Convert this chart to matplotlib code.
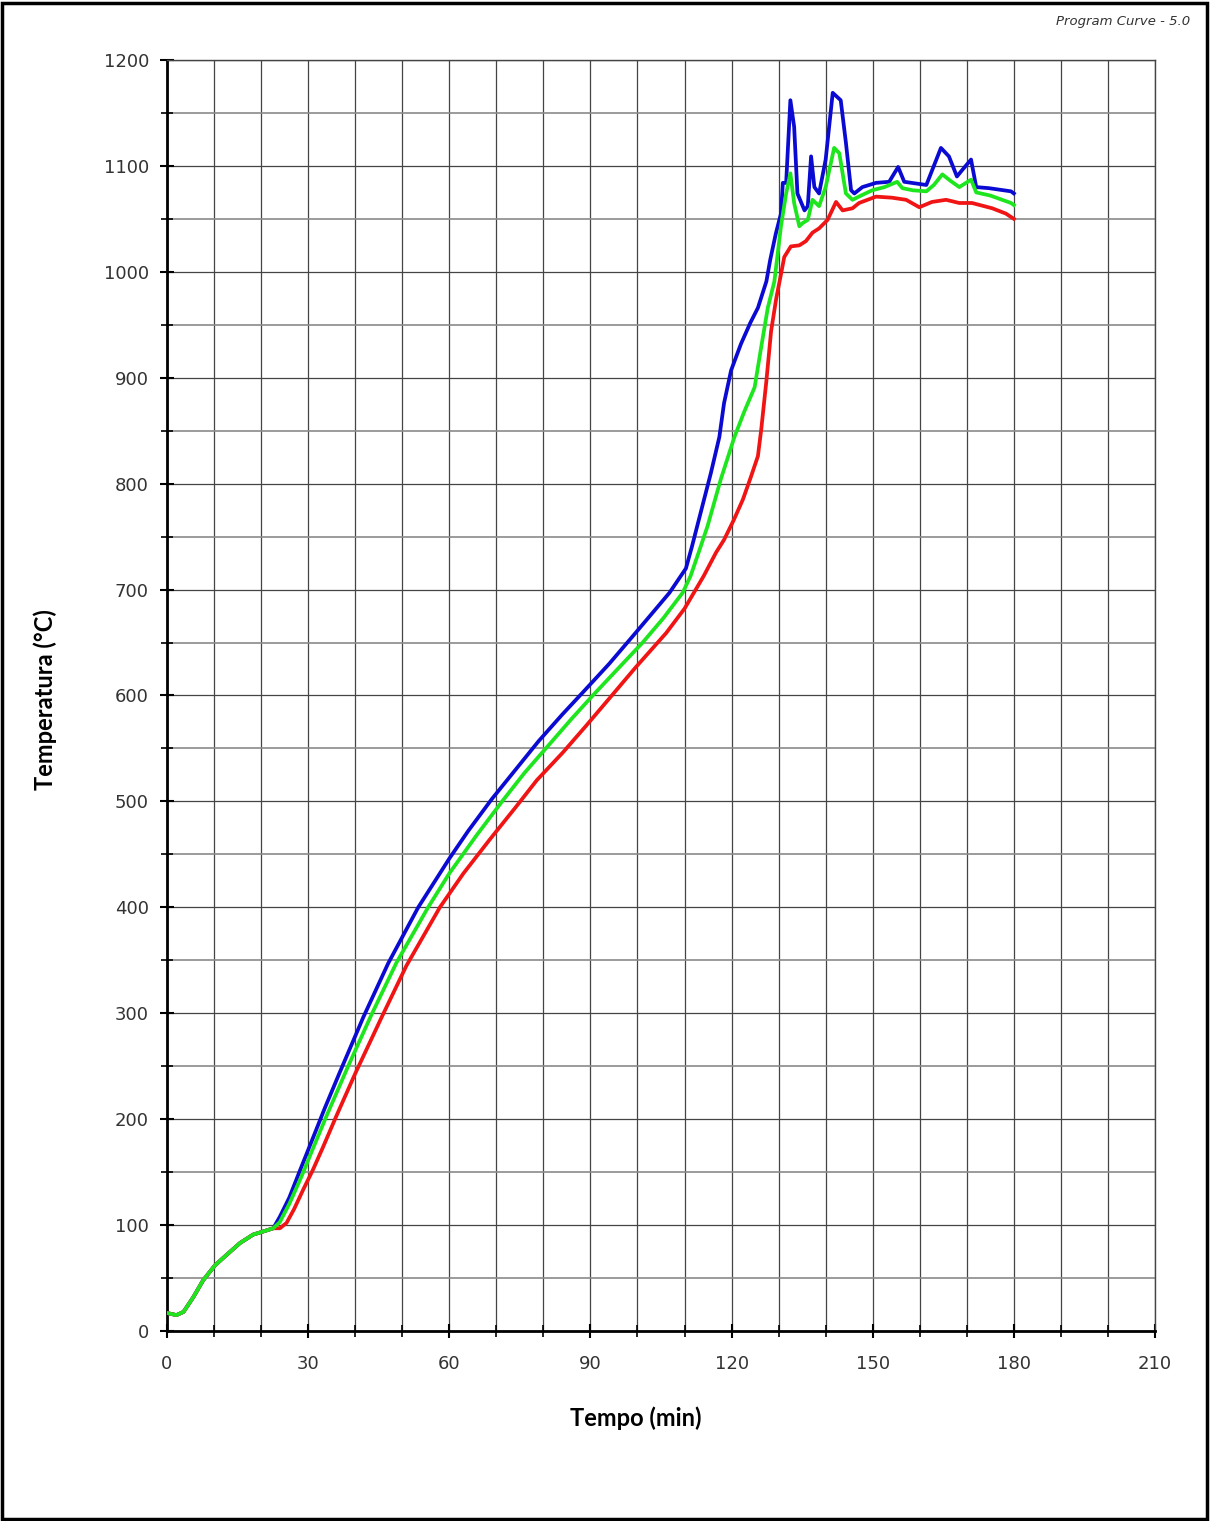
import matplotlib
matplotlib.use("Agg")
import matplotlib.pyplot as plt
from matplotlib.patches import Rectangle
from matplotlib.ticker import MultipleLocator

# furnace thermocouple readings: time (min) and temperature (C)
t_blue = [0, 2, 3.5, 5.6, 7.7, 10.2, 12.7, 15.5, 18.3, 21.2, 22.6, 24, 26, 28.3, 31, 33.5, 36.7,
          41.7, 47, 53.4, 60, 64, 69, 75, 79, 84, 88.4, 94, 99, 103, 106.8, 110.3, 111.6,
          113.8, 115.6, 117.4, 118.4, 119.9, 122, 124, 125.6, 127.4, 128.2, 129.4, 130.5, 130.9,
          131.6, 132.5, 133.3, 134, 135.5, 136.2, 136.9, 137.6, 138.6, 140, 141.5, 143.2, 144.3,
          145.4, 146.1, 147.8, 150.7, 153.5, 155.4, 156.7, 161.4, 164.5, 166.2, 167.9, 169,
          170.9, 172, 174.7, 179.4, 180]
temp_blue = [17, 15, 18, 32, 48, 62, 72, 83, 91, 95, 97, 108, 126, 152, 182, 210, 244,
             296, 347, 400, 446, 472, 502, 535, 557, 582, 603, 630, 656, 677, 697, 720, 741,
             779, 810, 844, 876, 907, 932, 952, 966, 991, 1011, 1036, 1055, 1084,
             1084, 1162, 1137, 1074, 1058, 1062, 1109, 1080, 1074, 1106, 1169, 1162, 1122,
             1077, 1074, 1080, 1084, 1085, 1099, 1085, 1082, 1117, 1109, 1090, 1096,
             1106, 1080, 1079, 1076, 1074]

t_green = [0, 2, 3.5, 5.6, 7.7, 10.2, 12.7, 15.5, 18.3, 21.2, 22.6, 24, 26, 28.6, 31, 34, 38.5,
           43.5, 48.8, 55.5, 60, 65.8, 71.4, 76, 81.3, 86, 90.5, 96, 101.1, 105.5, 109.6, 111.3,
           113, 114.9, 117.7, 120.6, 122.7, 124.9, 126.3, 127.7, 129.1, 130.5, 131.6, 132.5,
           133.3, 134.4, 135.1, 136.2, 137.2, 138.6, 140, 141.8, 142.9, 144.3, 145.7, 147.5,
           149.9, 152.5, 155.2, 156.3, 158.5, 161.4, 163, 164.8, 166.5, 168.4, 170.9, 172, 175,
           179.4, 180]
temp_green = [17, 15, 18, 32, 48, 62, 72, 83, 91, 95, 97, 103, 120, 146, 172, 204, 250,
              299, 348, 400, 432, 468, 501, 527, 554, 578, 600, 626, 650, 673, 697, 713,
              735, 760, 804, 844, 868, 891, 929, 966, 991, 1043, 1074, 1093,
              1065, 1043, 1046, 1049, 1068, 1062, 1080, 1117, 1112, 1074, 1068, 1072,
              1077, 1080, 1085, 1079, 1077, 1076, 1082, 1092, 1086, 1080, 1087, 1075, 1072,
              1065, 1063]

t_red = [0, 2, 3.5, 5.6, 7.7, 10.2, 12.7, 15.5, 18.3, 21.2, 22.6, 24, 25.4, 27, 28.9, 31, 33.2,
         36, 40, 45.6, 50.9, 58, 63, 68.6, 74.2, 78.6, 84.1, 89, 93.4, 99.7, 106.1, 110, 114.1,
         116.7, 118.4, 120.5, 122.4, 124, 125.6, 126.3, 127.4, 128.4, 129.5, 130.6, 131.2,
         132.6, 134.4, 135.8, 137.2, 138.6, 140.4, 142.2, 143.6, 145.7, 147.1, 150.7, 154.1,
         157.1, 159.9, 162.6, 165.6, 168.4, 171.1, 175.4, 178.3, 180]
temp_red = [17, 15, 18, 32, 48, 62, 72, 83, 91, 95, 97, 97, 102, 115, 133, 152, 174,
            203, 243, 296, 345, 400, 432, 464, 495, 520, 546, 571, 594, 627, 659, 682, 713,
            735, 747, 766, 785, 805, 826, 851, 897, 944, 975, 1000, 1014,
            1024, 1025, 1029, 1037, 1041, 1049, 1066, 1058, 1060, 1065, 1071, 1070,
            1068, 1061, 1066, 1068, 1065, 1065, 1060, 1055, 1050]

x_ticks = [0, 30, 60, 90, 120, 150, 180, 210]
y_ticks = [0, 100, 200, 300, 400, 500, 600, 700, 800, 900, 1000, 1100, 1200]

fig = plt.figure(figsize=(12.1, 15.21), dpi=100)
ax = fig.add_axes([167 / 1210, 190 / 1521, 988 / 1210, 1271 / 1521])

ax.plot(t_blue, temp_blue, color="#0a0ad2", lw=2.7, solid_joinstyle="round", zorder=3)
ax.plot(t_red, temp_red, color="#f01414", lw=2.7, solid_joinstyle="round", zorder=4)
ax.plot(t_green, temp_green, color="#1ee61e", lw=2.7, solid_joinstyle="round", zorder=5)

ax.set_xlim(0, 210)
ax.set_ylim(0, 1200)
ax.set_xticks(x_ticks)
ax.set_yticks(y_ticks)
ax.xaxis.set_minor_locator(MultipleLocator(10))
ax.yaxis.set_minor_locator(MultipleLocator(50))

ax.grid(which="major", color="#444444", lw=0.9)
ax.grid(which="minor", axis="x", color="#444444", lw=0.9)
ax.grid(which="minor", axis="y", color="#8a8a8a", lw=1.2)
ax.set_axisbelow(True)

ax.tick_params(axis="both", which="major", direction="inout", length=10, width=1.5,
               labelsize=13, labelcolor="#333333")
ax.tick_params(axis="x", which="major", pad=12)
ax.tick_params(axis="y", which="major", pad=8)
ax.tick_params(axis="both", which="minor", direction="inout", length=8, width=1.2)

for side in ["left", "bottom"]:
    ax.spines[side].set_linewidth(2)
    ax.spines[side].set_color("black")
for side in ["top", "right"]:
    ax.spines[side].set_linewidth(1)
    ax.spines[side].set_color("#444444")

fig.text(636 / 1210, 1 - 1418 / 1521, "Tempo (min)", ha="center", va="center",
         fontsize=17, fontweight="bold", family="Lato")
fig.text(45 / 1210, 1 - 700 / 1521, "Temperatura (°C)", ha="center", va="center",
         rotation=90, fontsize=17, fontweight="bold", family="Lato")
fig.text(1190 / 1210, 1 - 22 / 1521, "Program Curve - 5.0", ha="right", va="center",
         fontsize=9.5, style="italic", color="#333333")

# outer border around the whole sheet
fig.patches.append(Rectangle((2 / 1210, 2 / 1521), 1205 / 1210, 1516 / 1521,
                             transform=fig.transFigure, fill=False, lw=2.5,
                             edgecolor="black"))

fig.savefig("out.png", dpi=100)
